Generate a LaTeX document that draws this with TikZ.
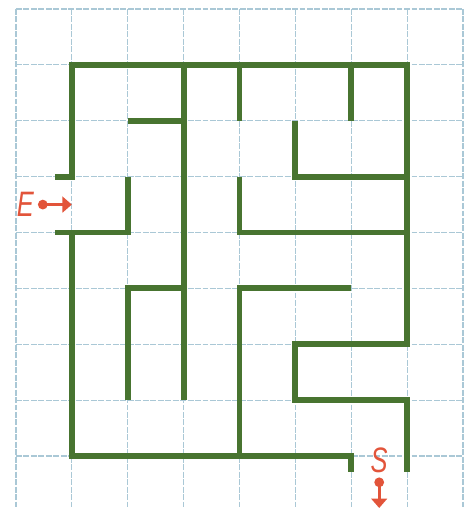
\documentclass[tikz,border=0pt]{standalone}
\usepackage{fontspec}
\setsansfont{Liberation Sans}
\usetikzlibrary{arrows.meta}
\definecolor{mazegreen}{RGB}{72,116,48}
\definecolor{signred}{RGB}{226,84,58}
\definecolor{gridblue}{RGB}{170,200,214}
\newcommand{\signtxt}[1]{\scalebox{0.72}[1]{#1}}
\tikzset{
  gridln/.style={gridblue,line width=0.55pt,dash pattern=on 3pt off 0.8pt},
  wall/.style={mazegreen,line width=3pt,line join=miter},
  signlbl/.style={signred,inner sep=0pt,font=\fontsize{18}{18}\selectfont\sffamily\itshape},
  signarr/.style={signred,line width=1.6pt,-{Triangle[length=4.8pt,width=8pt]}},
  signdot/.style={circle,fill=signred,inner sep=0pt,minimum size=5pt}
}

\begin{document}
\begin{tikzpicture}
\useasboundingbox (-0.286,0.161) rectangle (8.16,-8.93);
% grid
\foreach \i in {0,...,8} {
  \draw[gridln] (\i,0) -- (\i,-8.93);
  \draw[gridln] (0,-\i) -- (8,-\i);
}
% walls
\draw[wall] (0.7,-3) -- (1,-3) -- (1,-1) -- (7,-1) -- (7,-6) -- (5,-6) -- (5,-7) -- (7,-7) -- (7,-8.29);
\draw[wall] (0.7,-4) -- (2,-4) -- (2,-3);
\draw[wall] (1,-4) -- (1,-8) -- (6,-8) -- (6,-8.29);
\draw[wall] (2,-2) -- (3,-2);
\draw[wall] (3,-1) -- (3,-7);
\draw[wall] (4,-1) -- (4,-2);
\draw[wall] (6,-1) -- (6,-2);
\draw[wall] (5,-2) -- (5,-3) -- (7,-3);
\draw[wall] (4,-3) -- (4,-4) -- (7,-4);
\draw[wall] (2,-7) -- (2,-5) -- (3,-5);
\draw[wall] (6,-5) -- (4,-5) -- (4,-8);
% entry and exit
\node[signlbl] (E) at (0.17,-3.5) {\signtxt{E}};
\node[signdot] (Edot) at (0.48,-3.5) {};
\coordinate (Etip) at (1.0,-3.5);
\draw[signarr] (Edot.center) -- (Etip);
\node[signlbl] (S) at (6.5,-8.07) {\signtxt{S}};
\node[signdot] (Sdot) at (6.5,-8.47) {};
\coordinate (Stip) at (6.5,-8.93);
\draw[signarr] (Sdot.center) -- (Stip);
\end{tikzpicture}
\end{document}
